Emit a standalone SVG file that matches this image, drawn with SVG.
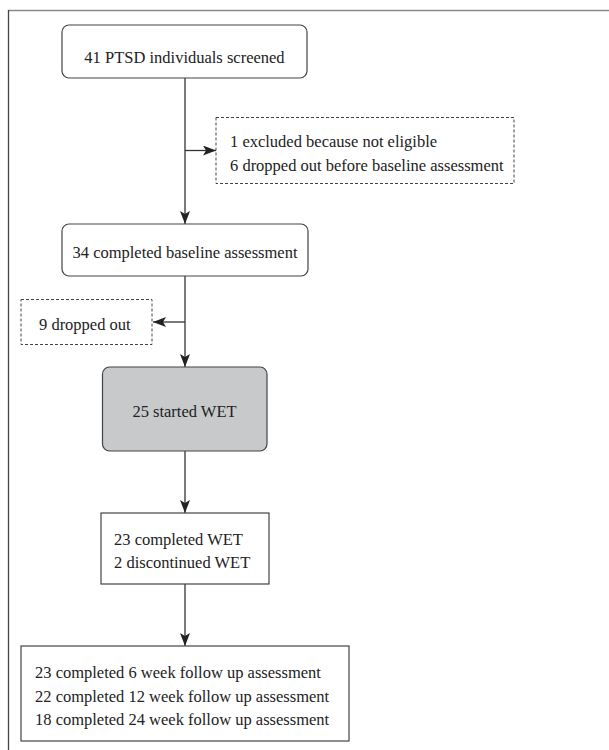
<svg xmlns="http://www.w3.org/2000/svg" width="609" height="750" viewBox="0 0 609 750">
<style>
text{font-family:"Liberation Serif","DejaVu Serif",serif;font-size:16.5px;fill:#222}
.box{fill:#fff;stroke:#444;stroke-width:1.2}
.dash{fill:#fff;stroke:#444;stroke-width:1;stroke-dasharray:3,2}
.grey{fill:#c8c9cb;stroke:#444;stroke-width:1.2}
.conn{stroke:#333;stroke-width:1.3;fill:none}
.mid{text-anchor:middle}
</style>
<defs>
<marker id="arr" markerWidth="14" markerHeight="10" refX="13" refY="5" orient="auto" markerUnits="userSpaceOnUse">
<path d="M0,0 L13,5 L0,10 L3,5 Z" fill="#222"/>
</marker>
</defs>
<rect x="0" y="0" width="609" height="750" fill="#fff"/>
<g id="frame">
<line x1="8.5" y1="10.5" x2="609" y2="10.5" stroke="#888" stroke-width="1.5"/>
<line x1="8.5" y1="10" x2="8.5" y2="750" stroke="#444" stroke-width="1.3"/>
</g>
<g id="connectors">
<line class="conn" x1="185" y1="78" x2="185" y2="224" marker-end="url(#arr)"/>
<line class="conn" x1="185" y1="150.5" x2="216" y2="150.5" marker-end="url(#arr)"/>
<line class="conn" x1="185" y1="276" x2="185" y2="367" marker-end="url(#arr)"/>
<line class="conn" x1="185" y1="322" x2="153" y2="322" marker-end="url(#arr)"/>
<line class="conn" x1="185" y1="451" x2="185" y2="513" marker-end="url(#arr)"/>
<line class="conn" x1="185" y1="584" x2="185" y2="646" marker-end="url(#arr)"/>
</g>
<g id="n1">
<rect class="box" x="62" y="25" width="245" height="53" rx="7"/>
<text class="mid" x="184.5" y="63">41 PTSD individuals screened</text>
</g>
<g id="n2">
<rect class="dash" x="216" y="117.5" width="298" height="66"/>
<text x="230" y="147">1 excluded because not eligible</text>
<text x="230" y="171">6 dropped out before baseline assessment</text>
</g>
<g id="n3">
<rect class="box" x="62" y="224" width="246" height="52" rx="7"/>
<text class="mid" x="185" y="258">34 completed baseline assessment</text>
</g>
<g id="n4">
<rect class="dash" x="21" y="299.5" width="131" height="45"/>
<text x="39" y="330">9 dropped out</text>
</g>
<g id="n5">
<rect class="grey" x="102.5" y="367" width="164.5" height="84" rx="7"/>
<text class="mid" x="184.5" y="417">25 started WET</text>
</g>
<g id="n6">
<rect class="box" x="101" y="513" width="168" height="71"/>
<text x="114" y="545">23 completed WET</text>
<text x="114" y="568">2 discontinued WET</text>
</g>
<g id="n7">
<rect class="box" x="21" y="646" width="328" height="95"/>
<text x="35" y="678">23 completed 6 week follow up assessment</text>
<text x="35" y="702">22 completed 12 week follow up assessment</text>
<text x="35" y="725">18 completed 24 week follow up assessment</text>
</g>
</svg>
